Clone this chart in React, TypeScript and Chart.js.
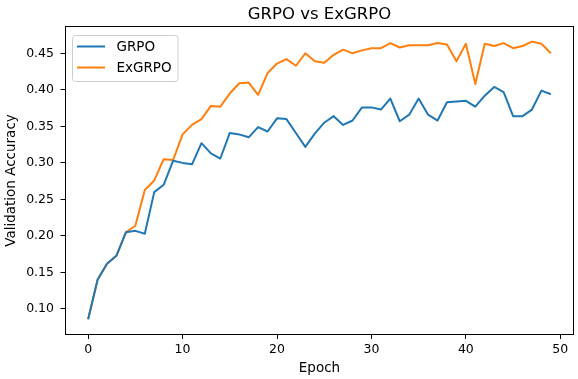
import React, { useEffect, useRef } from 'react';
import { Chart, registerables } from 'chart.js';

Chart.register(...registerables);

const epochs = [
  0, 1, 2, 3, 4, 5, 6, 7, 8, 9,
  10, 11, 12, 13, 14, 15, 16, 17, 18, 19,
  20, 21, 22, 23, 24, 25, 26, 27, 28, 29,
  30, 31, 32, 33, 34, 35, 36, 37, 38, 39,
  40, 41, 42, 43, 44, 45, 46, 47, 48, 49,
];

const grpo = [
  0.086, 0.140, 0.162, 0.173, 0.205, 0.207, 0.203, 0.260, 0.270, 0.303,
  0.300, 0.298, 0.327, 0.313, 0.306, 0.341, 0.339, 0.335, 0.349, 0.343,
  0.361, 0.360, 0.341, 0.322, 0.340, 0.355, 0.364, 0.352, 0.358, 0.376,
  0.376, 0.373, 0.388, 0.357, 0.366, 0.388, 0.366, 0.358, 0.383, 0.384,
  0.385, 0.377, 0.392, 0.404, 0.397, 0.364, 0.364, 0.373, 0.399, 0.394,
];

const exgrpo = [
  0.086, 0.140, 0.162, 0.173, 0.205, 0.214, 0.263, 0.276, 0.305, 0.304,
  0.339, 0.352, 0.360, 0.378, 0.377, 0.395, 0.409, 0.410, 0.393, 0.423,
  0.436, 0.442, 0.433, 0.450, 0.439, 0.437, 0.448, 0.455, 0.450, 0.454,
  0.457, 0.457, 0.464, 0.458, 0.461, 0.461, 0.461, 0.464, 0.462, 0.439,
  0.463, 0.408, 0.463, 0.460, 0.464, 0.457, 0.460, 0.466, 0.463, 0.450,
];

const seriesLabels = ['GRPO', 'ExGRPO'];
const seriesColors = ['#1f77b4', '#ff7f0e'];
const xTicks = [0, 10, 20, 30, 40, 50];
const yTicks = [0.1, 0.15, 0.2, 0.25, 0.3, 0.35, 0.4, 0.45];
const chartTitle = 'GRPO vs ExGRPO';
const xLabel = 'Epoch';
const yLabel = 'Validation Accuracy';

const FONT = '"DejaVu Sans", "Liberation Sans", sans-serif';

const framePlugin = {
  id: 'mplFrame',
  afterDatasetsDraw(chart: any) {
    const { ctx, chartArea: a } = chart;
    ctx.save();
    ctx.strokeStyle = '#000';
    ctx.lineWidth = 1;
    const x0 = Math.floor(a.left) + 0.5;
    const x1 = Math.ceil(a.right) - 0.5;
    const y0 = Math.floor(a.top) + 0.5;
    const y1 = Math.ceil(a.bottom) - 0.5;
    ctx.strokeRect(x0, y0, x1 - x0, y1 - y0);
    ctx.restore();
  },
};

const titleLegendPlugin = {
  id: 'mplTitleLegend',
  afterDraw(chart: any) {
    const { ctx, chartArea: a } = chart;
    ctx.save();
    // title
    ctx.fillStyle = '#000';
    ctx.font = `16.5px ${FONT}`;
    ctx.textAlign = 'center';
    ctx.textBaseline = 'alphabetic';
    ctx.fillText(chartTitle, (a.left + a.right) / 2, 19.3);

    // legend box
    const bx = a.left + 7.5;
    const by = a.top + 9.5;
    const bw = 105.5;
    const bh = 46;
    const r = 3;
    ctx.beginPath();
    ctx.moveTo(bx + r, by);
    ctx.lineTo(bx + bw - r, by);
    ctx.arcTo(bx + bw, by, bx + bw, by + r, r);
    ctx.lineTo(bx + bw, by + bh - r);
    ctx.arcTo(bx + bw, by + bh, bx + bw - r, by + bh, r);
    ctx.lineTo(bx + r, by + bh);
    ctx.arcTo(bx, by + bh, bx, by + bh - r, r);
    ctx.lineTo(bx, by + r);
    ctx.arcTo(bx, by, bx + r, by, r);
    ctx.closePath();
    ctx.fillStyle = 'rgba(255,255,255,0.8)';
    ctx.fill();
    ctx.strokeStyle = '#cccccc';
    ctx.lineWidth = 1;
    ctx.stroke();

    const rows = [by + 11, by + 32];
    chart.data.datasets.forEach((ds: any, i: number) => {
      const y = rows[i];
      ctx.strokeStyle = ds.borderColor;
      ctx.lineWidth = 2;
      ctx.beginPath();
      ctx.moveTo(bx + 4.5, y);
      ctx.lineTo(bx + 32.5, y);
      ctx.stroke();
      ctx.fillStyle = '#000';
      ctx.font = `13.5px ${FONT}`;
      ctx.textAlign = 'left';
      ctx.textBaseline = 'middle';
      ctx.fillText(ds.label, bx + 44, y + 0.5);
    });
    ctx.restore();
  },
};

export default function App() {
  const canvasRef = useRef<HTMLCanvasElement | null>(null);

  useEffect(() => {
    if (!canvasRef.current) return;
    const series = [grpo, exgrpo];
    const chart = new Chart(canvasRef.current, {
      type: 'line',
      data: {
        datasets: series.map((vals, i) => ({
          label: seriesLabels[i],
          data: epochs.map((e, j) => ({ x: e, y: vals[j] })),
          borderColor: seriesColors[i],
          backgroundColor: seriesColors[i],
          borderWidth: 2,
          pointRadius: 0,
          tension: 0,
          fill: false,
          borderJoinStyle: 'round',
        })),
      },
      options: {
        responsive: false,
        animation: false,
        devicePixelRatio: 1,
        events: [],
        layout: { padding: { top: 26, right: 4, left: 0, bottom: 0 } },
        plugins: {
          legend: { display: false },
          title: { display: false },
          tooltip: { enabled: false },
        },
        scales: {
          x: {
            type: 'linear',
            min: -2.45,
            max: 51.45,
            afterBuildTicks: (scale: any) => {
              scale.ticks = xTicks.map((v) => ({ value: v }));
            },
            afterFit: (scale: any) => {
              scale.height = 44;
            },
            border: { display: false },
            grid: {
              drawOnChartArea: false,
              drawTicks: true,
              tickLength: 4,
              color: '#000',
              lineWidth: 1,
            },
            ticks: {
              color: '#000',
              padding: 3,
              maxRotation: 0,
              autoSkip: false,
              font: { family: FONT, size: 12.5 },
              callback: (v: any) => String(v),
            },
            title: {
              display: true,
              text: xLabel,
              color: '#000',
              font: { family: FONT, size: 13.5 },
              padding: { top: 0, bottom: 2.3 },
            },
          },
          y: {
            type: 'linear',
            min: 0.0644,
            max: 0.4874,
            afterBuildTicks: (scale: any) => {
              scale.ticks = yTicks.map((v) => ({ value: v }));
            },
            afterFit: (scale: any) => {
              scale.width = 65;
            },
            border: { display: false },
            grid: {
              drawOnChartArea: false,
              drawTicks: true,
              tickLength: 4.5,
              color: '#000',
              lineWidth: 1,
            },
            ticks: {
              color: '#000',
              padding: 6.5,
              autoSkip: false,
              font: { family: FONT, size: 12.5 },
              callback: (v: any) => Number(v).toFixed(2),
            },
            title: {
              display: true,
              text: yLabel,
              color: '#000',
              font: { family: FONT, size: 13.5 },
              padding: { top: 3.2, bottom: 0 },
            },
          },
        },
      },
      plugins: [framePlugin, titleLegendPlugin],
    } as any);
    return () => chart.destroy();
  }, []);

  return (
    <div style={{ position: 'absolute', left: 0, top: 0, width: 578, height: 379, background: '#fff' }}>
      <canvas ref={canvasRef} width={578} height={379} style={{ display: 'block' }} />
    </div>
  );
}
